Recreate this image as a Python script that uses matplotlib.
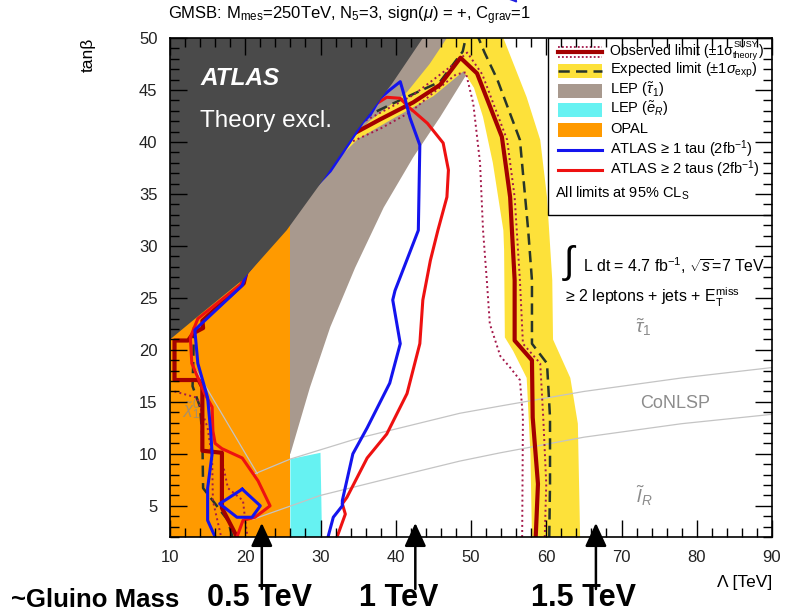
import matplotlib
matplotlib.use("Agg")
import matplotlib.pyplot as plt
from matplotlib.patches import Polygon, Rectangle, FancyArrowPatch
from matplotlib.lines import Line2D
from matplotlib.transforms import Affine2D, blended_transform_factory

plt.rcParams["font.family"] = ["Liberation Sans", "DejaVu Sans"]
plt.rcParams["mathtext.fontset"] = "custom"
plt.rcParams["mathtext.rm"] = "Liberation Sans"
plt.rcParams["mathtext.it"] = "Liberation Sans:italic"
plt.rcParams["mathtext.bf"] = "Liberation Sans:bold"
plt.rcParams["mathtext.sf"] = "Liberation Sans"

# ---------------------------------------------------------------- data
lambda_ticks = [10, 20, 30, 40, 50, 60, 70, 80, 90]
tanb_ticks = [5, 10, 15, 20, 25, 30, 35, 40, 45, 50]

# theoretically excluded region (upper-left boundary)
theory_lam = [10.0, 14.0, 19.6, 25.5, 30.3, 34.8, 39.5, 43.6]
theory_tanb = [21.0, 23.4, 26.7, 31.5, 36.3, 41.1, 45.6, 50.0]

# LEP stau limit (lower-right edge of the band)
lep_stau_lam = [26.0, 28.6, 31.3, 34.6, 38.4, 42.3, 45.9, 49.5, 51.3]
lep_stau_tanb = [10.0, 16.4, 22.2, 27.9, 33.7, 38.5, 42.4, 46.6, 50.0]

# LEP selectron limit
lep_sel_lam = [26.0, 26.0, 30.0, 30.2]
lep_sel_tanb = [2.0, 9.5, 10.1, 2.0]

# OPAL limit
opal_lam_max = 26.0

# expected limit +-1 sigma band
band_lam = [31.0, 33.5, 36.5, 41.5, 44.5, 46.8, 54.3, 57.4, 59.2, 60.1, 60.8,
            60.9, 63.2, 64.2, 64.5, 58.1, 57.9, 57.4, 55.6, 54.5, 54.4, 54.3,
            52.9, 51.6, 50.4, 49.0, 45.0, 40.0, 35.0, 32.5]
band_tanb = [36.6, 39.8, 42.0, 44.8, 47.5, 50.0, 50.0, 44.3, 40.2, 34.7, 26.7,
             21.0, 17.3, 12.9, 2.0, 2.0, 10.0, 17.3, 19.9, 21.2, 29.6, 31.5,
             38.0, 42.4, 45.2, 46.8, 44.4, 42.4, 40.3, 38.5]

# expected limit (high-Lambda branch, leaves through the top edge and returns)
exp_lam = [60.4, 60.5, 60.5, 60.1, 58.1, 58.1, 57.6, 56.5, 53.5, 51.8, 51.0,
           50.2, 49.3, 48.9, 45.9, 40.5, 35.6, 32.5]
exp_tanb = [2.0, 7.1, 13.5, 18.7, 20.6, 26.7, 31.5, 40.2, 46.0, 48.6, 50.0,
            51.0, 50.0, 48.7, 45.8, 44.0, 42.3, 39.6]
# expected limit (low-Lambda branch)
exp_low_lam = [13.2, 13.0, 14.0, 14.3, 14.4, 16.0, 17.7, 18.3]
exp_low_tanb = [22.2, 16.5, 14.5, 11.6, 6.7, 5.2, 3.6, 2.0]

# observed limit
obs_lam = [58.6, 58.9, 58.2, 58.1, 55.8, 55.8, 55.2, 54.1, 50.8, 48.6, 45.9,
           42.3, 38.0, 33.9, 31.2, 29.3, 24.8, 20.2, 19.8, 14.3, 14.4, 13.1,
           12.4, 10.6, 10.6, 13.8, 14.3, 14.3, 16.9, 16.9, 18.9]
obs_tanb = [2.0, 7.1, 13.5, 19.0, 20.9, 26.7, 34.7, 40.5, 46.6, 48.1, 45.5,
            43.8, 42.2, 40.6, 37.6, 35.8, 31.5, 27.6, 26.4, 22.8, 22.1, 21.6,
            20.9, 20.9, 17.1, 17.1, 16.4, 10.3, 10.1, 4.8, 2.0]

# observed limit, -1 sigma (theory)
obs_lo_lam = [56.8, 56.9, 56.5, 55.2, 53.9, 52.5, 52.1, 51.6, 51.2, 50.3,
              49.3, 48.0, 44.6, 42.0, 38.0, 33.5]
obs_lo_tanb = [2.0, 13.5, 17.1, 18.3, 19.4, 22.5, 26.7, 31.5, 38.0, 43.7,
               46.7, 46.5, 44.5, 42.9, 41.3, 39.8]

# observed limit, +1 sigma (theory)
obs_hi_lam = [59.8, 60.0, 59.6, 59.2, 56.9, 56.5, 55.8, 54.8, 51.5, 49.5,
              48.1, 42.3, 35.6, 33.0]
obs_hi_tanb = [2.0, 7.1, 13.5, 18.7, 20.6, 26.7, 34.7, 40.2, 46.5, 48.6,
               47.7, 44.5, 41.9, 40.8]

# observed limit +-1 sigma in the low-Lambda corner
obs_lo2_lam = [10.6, 13.6, 15.0, 15.6, 15.7, 16.8]
obs_lo2_tanb = [16.0, 15.4, 12.5, 9.5, 5.5, 2.0]
obs_hi2_lam = [17.0, 17.0, 17.7, 19.7, 20.0, 20.3]
obs_hi2_tanb = [10.5, 9.1, 6.7, 5.5, 3.6, 2.0]

# ATLAS >= 1 tau (2 fb-1)
tau1_lam = [31.0, 31.7, 32.9, 32.9, 34.3, 36.2, 39.2, 40.6, 39.6, 39.9, 43.0,
            43.2, 41.9, 41.0, 40.6, 39.2, 37.9, 36.6, 35.6, 33.9, 31.3, 29.2,
            24.6, 20.2, 19.6, 14.0, 13.3, 13.7, 15.0, 15.4, 15.6, 15.0, 15.0,
            16.0]
tau1_tanb = [2.0, 3.9, 5.0, 5.5, 10.0, 12.5, 16.8, 20.6, 24.8, 25.7, 31.5,
             39.7, 42.3, 44.8, 45.8, 45.0, 44.2, 42.6, 41.9, 40.0, 37.2, 35.6,
             31.3, 27.4, 26.2, 22.4, 21.9, 18.7, 15.4, 12.2, 10.0, 6.7, 3.6,
             2.0]
tau1_loop_lam = [19.6, 22.0, 20.9, 18.9, 16.6, 19.6]
tau1_loop_tanb = [6.6, 5.0, 3.9, 3.9, 5.2, 6.6]

# ATLAS >= 2 taus (2 fb-1)
tau2_lam = [32.2, 33.3, 32.9, 33.5, 36.2, 38.8, 41.5, 43.2, 43.6, 44.6, 45.6,
            46.8, 47.0, 46.3, 44.2, 41.5, 40.6, 38.8, 36.6, 35.0, 33.5, 31.7,
            29.4, 24.9, 20.3, 19.4, 18.2, 13.7, 12.7, 12.9, 14.6, 15.6, 15.7,
            16.0, 16.9, 19.6, 21.7, 23.3, 21.3, 19.7, 18.9]
tau2_tanb = [2.0, 4.2, 5.2, 5.8, 9.6, 11.9, 15.8, 20.6, 24.8, 28.6, 31.5,
             34.7, 37.3, 39.9, 41.8, 43.5, 44.2, 44.3, 43.3, 42.3, 41.1, 38.3,
             35.9, 31.6, 27.7, 26.3, 25.6, 23.0, 21.2, 18.7, 15.8, 14.5, 12.2,
             11.0, 10.5, 9.6, 7.4, 5.0, 3.9, 3.6, 2.0]

# NLSP-type boundaries
nlsp_up_lam = [21.0, 26.0, 35.0, 48.5, 53.9, 65.0, 78.0, 90.0]
nlsp_up_tanb = [8.0, 9.5, 11.5, 13.9, 14.6, 16.0, 17.3, 18.3]
nlsp_lo_lam = [21.0, 30.0, 40.0, 48.5, 53.9, 65.0, 78.0, 90.0]
nlsp_lo_tanb = [3.7, 6.0, 7.8, 9.3, 10.1, 11.6, 12.9, 13.8]
nlsp_chi_lam = [13.5, 21.6]
nlsp_chi_tanb = [18.0, 8.1]

# approximate gluino mass markers
gluino_lam = [22.2, 42.6, 66.6]
gluino_labels = ["0.5 TeV", "1 TeV", "1.5 TeV"]

# ---------------------------------------------------------------- colours
C_THEORY = "#4a4a4a"
C_LEP_STAU = "#a8998e"
C_LEP_SEL = "#66f2f2"
C_OPAL = "#ff9a00"
C_BAND = "#fde13a"
C_OBS = "#a30000"
C_OBS_SIG = "#a3184a"
C_EXP = "#27352a"
C_TAU1 = "#1414ee"
C_TAU2 = "#ee1111"
C_NLSP = "#c4c4c4"
C_NLSP_TXT = "#8c8c8c"

W, H = 789, 612
fig = plt.figure(figsize=(W / 100, H / 100), dpi=100)
ax = fig.add_axes([170 / W, 1 - 537 / H, 602 / W, 499 / H])
ax.set_xlim(10, 90)
ax.set_ylim(2, 50)

# page-pixel transform (origin top-left) for the page furniture
P = Affine2D().scale(1 / W, -1 / H).translate(0, 1) + fig.transFigure

# ---------------------------------------------------------------- filled regions
lep_poly = list(zip(lep_stau_lam, lep_stau_tanb)) + [(10, 50), (10, lep_stau_tanb[0])]
ax.add_patch(Polygon(lep_poly, closed=True, fc=C_LEP_STAU, ec="none", zorder=1))
ax.add_patch(Rectangle((10, 2), opal_lam_max - 10, 48, fc=C_OPAL, ec="none", zorder=1.5))
ax.add_patch(Polygon(list(zip(lep_sel_lam, lep_sel_tanb)), closed=True,
                     fc=C_LEP_SEL, ec="none", zorder=1.5))
ax.add_patch(Polygon(list(zip(band_lam, band_tanb)), closed=True,
                     fc=C_BAND, ec="none", zorder=2))
# the theory-excluded area sits on top of the contours running along its edge
theory_poly = list(zip(theory_lam, theory_tanb)) + [(10, 50)]
ax.add_patch(Polygon(theory_poly, closed=True, fc=C_THEORY, ec="none", zorder=7.5))

# NLSP boundaries
for xs, ys in [(nlsp_up_lam, nlsp_up_tanb), (nlsp_lo_lam, nlsp_lo_tanb),
               (nlsp_chi_lam, nlsp_chi_tanb)]:
    ax.plot(xs, ys, color=C_NLSP, lw=0.9, zorder=3.5)

# ---------------------------------------------------------------- limit lines
for xs, ys in [(exp_lam, exp_tanb), (exp_low_lam, exp_low_tanb)]:
    ax.plot(xs, ys, color=C_EXP, lw=1.8, ls=(0, (4.5, 2.5)), zorder=4)
for xs, ys in [(obs_lo_lam, obs_lo_tanb), (obs_hi_lam, obs_hi_tanb),
               (obs_lo2_lam, obs_lo2_tanb), (obs_hi2_lam, obs_hi2_tanb)]:
    ax.plot(xs, ys, color=C_OBS_SIG, lw=1.4, ls=(0, (1, 1.6)), zorder=4.5)
ax.plot(obs_lam, obs_tanb, color=C_OBS, lw=3.0, zorder=5)
ax.plot(tau2_lam, tau2_tanb, color=C_TAU2, lw=2.2, zorder=6)
ax.plot(tau1_lam, tau1_tanb, color=C_TAU1, lw=2.2, zorder=7)
ax.plot(tau1_loop_lam, tau1_loop_tanb, color=C_TAU1, lw=2.2, zorder=7)

# ---------------------------------------------------------------- in-plot text
ax.text(14.0, 45.5, "ATLAS", color="white", fontsize=17.5, fontweight="bold",
        fontstyle="italic", zorder=8)
ax.text(14.0, 41.4, "Theory excl.", color="white", fontsize=17.5, zorder=8)
ax.text(72.9, 22.2, r"$\tilde{\tau}_1$", color=C_NLSP_TXT, fontsize=14,
        ha="center", va="center", zorder=8)
ax.text(77.1, 14.8, "CoNLSP", color=C_NLSP_TXT, fontsize=13,
        ha="center", va="center", zorder=8)
ax.text(73.1, 6.0, r"$\tilde{l}_R$", color=C_NLSP_TXT, fontsize=14,
        ha="center", va="center", zorder=8)
ax.text(12.8, 14.2, r"$\tilde{\chi}^0_1$", color=C_NLSP_TXT, fontsize=12,
        ha="center", va="center", zorder=3.6, alpha=0.8)

ax.text(570, 263, r"$\int$", transform=P, fontsize=27, ha="center", va="center", zorder=8)
ax.text(583, 266, r"L dt = 4.7 fb$^{-1}$, $\sqrt{s}$=7 TeV", transform=P,
        fontsize=11.4, va="center", zorder=8)
ax.text(565, 297, r"≥ 2 leptons + jets + E$_{\rm T}^{\rm miss}$", transform=P,
        fontsize=11.5, va="center", zorder=8)

# ---------------------------------------------------------------- legend box
ax.add_patch(Rectangle((548, 38), 224, 177, transform=P, fc="white", ec="black",
                       lw=1.0, zorder=10))
rows = [52, 71, 91, 110, 130, 150, 170]
hx0, hx1 = 558, 602
for yy in (rows[0] - 5, rows[0] + 5):
    ax.add_line(Line2D([hx0, hx1], [yy, yy], transform=P, color=C_OBS_SIG,
                       lw=1.3, ls=(0, (1, 1.2)), zorder=11))
ax.add_line(Line2D([hx0, hx1], [rows[0], rows[0]], transform=P, color=C_OBS,
                   lw=3.0, zorder=11))
ax.add_patch(Rectangle((hx0, rows[1] - 7), hx1 - hx0, 14, transform=P,
                       fc=C_BAND, ec="none", zorder=11))
ax.add_line(Line2D([hx0, hx1], [rows[1], rows[1]], transform=P, color=C_EXP,
                   lw=1.8, ls=(0, (4.5, 2.5)), zorder=12))
for yy, col in zip(rows[2:5], [C_LEP_STAU, C_LEP_SEL, C_OPAL]):
    ax.add_patch(Rectangle((hx0, yy - 7), hx1 - hx0, 14, transform=P,
                           fc=col, ec="none", zorder=11))
ax.add_line(Line2D([hx0, hx1], [rows[5], rows[5]], transform=P, color=C_TAU1,
                   lw=2.2, zorder=11))
ax.add_line(Line2D([hx0, hx1], [rows[6], rows[6]], transform=P, color=C_TAU2,
                   lw=2.2, zorder=11))

# first entry: sigma with stacked SUSY / theory scripts
renderer = fig.canvas.get_renderer()
t_obs = ax.text(610, rows[0] - 1, "Observed limit (±1σ", transform=P, fontsize=10.1,
                va="center", zorder=12)
x_end = t_obs.get_window_extent(renderer).x1
t_sup = ax.text(x_end + 0.5, rows[0] - 7.5, "SUSY", transform=P, fontsize=6.5,
                va="center", zorder=12)
t_sub = ax.text(x_end + 0.5, rows[0] + 3.5, "theory", transform=P, fontsize=6.5,
                va="center", zorder=12)
x_par = max(t_sup.get_window_extent(renderer).x1, t_sub.get_window_extent(renderer).x1)
ax.text(x_par + 0.5, rows[0] - 1, ")", transform=P, fontsize=10.1, va="center", zorder=12)

labels = [r"Expected limit ($\pm$1$\sigma_{\rm exp}$)",
          r"LEP ($\tilde{\tau}_1$)",
          r"LEP ($\tilde{e}_R$)",
          "OPAL",
          r"ATLAS ≥ 1 tau (2fb$^{-1}$)",
          r"ATLAS ≥ 2 taus (2fb$^{-1}$)"]
for yy, lab in zip(rows[1:], labels):
    ax.text(610, yy - 1, lab, transform=P, fontsize=10.5, va="center", zorder=12)
ax.text(555, 193, r"All limits at 95% CL$_{\rm S}$", transform=P, fontsize=10.5,
        va="center", zorder=12)

# ---------------------------------------------------------------- axes styling
ax.set_xticks(lambda_ticks)
ax.set_yticks(tanb_ticks)
ax.set_xticks(range(10, 91, 2), minor=True)
ax.set_yticks(range(2, 51, 1), minor=True)
ax.tick_params(which="both", direction="in", top=True, right=True,
               width=1.0, colors="black", labelcolor="#222222", labelsize=12)
ax.tick_params(which="major", length=12.5, pad=9)
ax.tick_params(which="minor", length=6.5)
for sp in ax.spines.values():
    sp.set_linewidth(1.2)
    sp.set_zorder(20)
ax.xaxis.set_zorder(20)
ax.yaxis.set_zorder(20)

# ---------------------------------------------------------------- page text
fig.text(168, 16, r"GMSB: M$_{\rm mes}$=250TeV, N$_5$=3, sign($\mu$) = +, C$_{\rm grav}$=1",
         transform=P, fontsize=12, va="center", ha="left")
fig.text(88, 55, "tanβ", transform=P, fontsize=12.5, rotation=90,
         ha="center", va="center")
fig.text(745, 583, "Λ [TeV]", transform=P, fontsize=12.5,
         ha="center", va="center")

# gluino-mass markers below the axis
arrow_tr = blended_transform_factory(ax.transData, P)
for lam in gluino_lam:
    ax.annotate("", xy=(lam, 3.35), xycoords="data", xytext=(lam, 589),
                textcoords=arrow_tr,
                arrowprops=dict(arrowstyle="-|>,head_length=0.65,head_width=0.3",
                                color="black", lw=1.8, mutation_scale=22,
                                shrinkA=0, shrinkB=0),
                annotation_clip=False, zorder=21)
fig.text(95, 600, "~Gluino Mass", transform=P, fontsize=18.5, fontweight="bold",
         ha="center", va="center")
for px, lab in zip([260, 399, 584], gluino_labels):
    fig.text(px, 598, lab, transform=P, fontsize=22, fontweight="bold",
             ha="center", va="center")

# pointer entering from the top edge
fig.add_artist(FancyArrowPatch(
    (500, -14), (520, 5), transform=P, arrowstyle="-|>,head_length=0.8,head_width=0.35",
    mutation_scale=14, color="#2020e0", lw=1.5))

fig.savefig("out.png", dpi=100)
